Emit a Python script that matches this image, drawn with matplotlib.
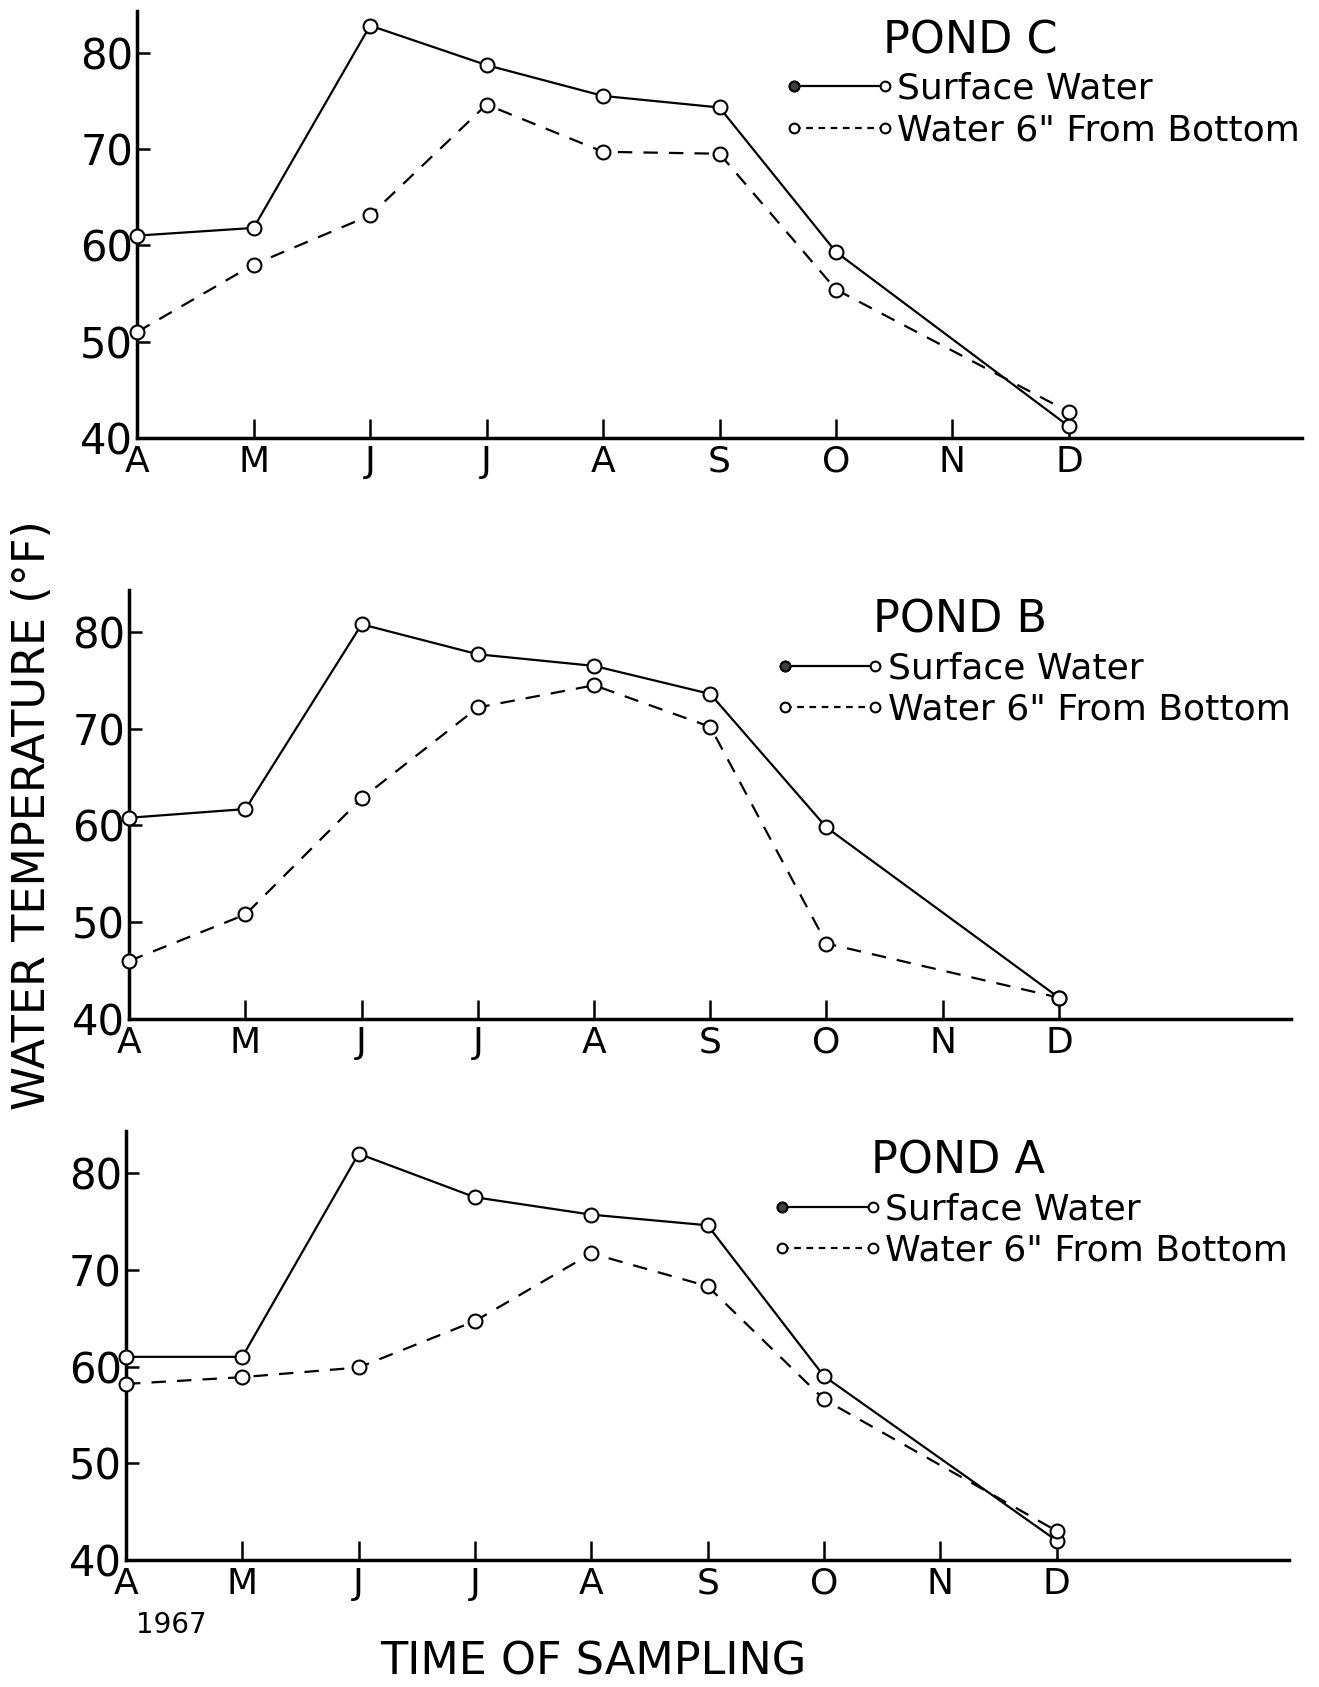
import matplotlib
matplotlib.use("Agg")
import matplotlib.pyplot as plt
from matplotlib.lines import Line2D
from matplotlib.legend_handler import HandlerTuple, HandlerLine2D

# month labels on the x axis, 1967 season
months = ['A', 'M', 'J', 'J', 'A', 'S', 'O', 'N', 'D']
# sampling dates (index into months) - nothing taken in November
sample_idx = [0, 1, 2, 3, 4, 5, 6, 8]

# water temperature (deg F)
pond_c_surface = [61.0, 61.8, 82.8, 78.7, 75.5, 74.3, 59.3, 41.2]
pond_c_bottom = [51.0, 58.0, 63.1, 74.6, 69.7, 69.5, 55.4, 42.7]
pond_b_surface = [60.8, 61.7, 80.8, 77.7, 76.5, 73.6, 59.8, 42.2]
pond_b_bottom = [46.0, 50.8, 62.8, 72.2, 74.5, 70.2, 47.8, 42.2]
pond_a_surface = [61.0, 61.0, 82.0, 77.5, 75.7, 74.6, 59.0, 42.0]
pond_a_bottom = [58.2, 58.9, 59.9, 64.7, 71.7, 68.3, 56.6, 43.0]

yticks = [40, 50, 60, 70, 80]

panels = [
    ('POND C', pond_c_surface, pond_c_bottom, [0.104, 0.7404, 0.883, 0.253]),
    ('POND B', pond_b_surface, pond_b_bottom, [0.098, 0.396, 0.881, 0.254]),
    ('POND A', pond_a_surface, pond_a_bottom, [0.0955, 0.0753, 0.882, 0.254]),
]

LW = 1.6
MS = 10


class HandlerFirstMarker(HandlerLine2D):
    """legend sample that only shows the left-hand marker"""
    def create_artists(self, *args, **kwargs):
        arts = super().create_artists(*args, **kwargs)
        for a in arts:
            a.set_markevery([0])
        return arts


fig = plt.figure(figsize=(13.19, 16.87), dpi=100)

for title, surf, bot, pos in panels:
    ax = fig.add_axes(pos)
    ax.plot(sample_idx, surf, color='k', lw=LW, marker='o', ms=MS,
            mfc='white', mec='k', mew=1.5, clip_on=False, zorder=3)
    ax.plot(sample_idx, bot, color='k', lw=LW, ls=(0, (6.5, 5)), marker='o',
            ms=MS, mfc='white', mec='k', mew=1.5, clip_on=False, zorder=3)

    ax.set_xlim(0, 10)
    ax.set_ylim(40, 84.3)
    ax.set_xticks(range(len(months)))
    ax.set_xticklabels(months)
    ax.set_yticks(yticks)
    for s in ['top', 'right']:
        ax.spines[s].set_visible(False)
    for s in ['left', 'bottom']:
        ax.spines[s].set_linewidth(2.5)
    ax.tick_params(axis='x', direction='in', length=14, width=1.8,
                   labelsize=26, pad=5)
    ax.tick_params(axis='y', direction='in', length=9, width=1.8,
                   labelsize=30, pad=3)

    ax.text(0.64, 0.93, title, transform=ax.transAxes, ha='left',
            va='center', fontsize=32)

    filled = Line2D([], [], ls='none', marker='o', ms=MS, mfc='0.25',
                    mec='k', mew=1.5)
    surf_h = (Line2D([], [], color='k', lw=LW, marker='o', ms=MS,
                     mfc='white', mec='k', mew=1.5), filled)
    bot_h = Line2D([], [], color='k', lw=LW, ls=(0, (3, 2.5)), marker='o',
                   ms=MS, mfc='white', mec='k', mew=1.5)
    ax.legend([surf_h, bot_h], ['Surface Water', 'Water 6" From Bottom'],
              handler_map={tuple: HandlerTuple(ndivide=1),
                           filled: HandlerFirstMarker()},
              loc='upper left', bbox_to_anchor=(0.555, 0.858),
              frameon=False, fontsize=26, numpoints=2, markerscale=0.7,
              handlelength=3.1, handletextpad=0.05, labelspacing=0.21,
              borderpad=0, borderaxespad=0)

fig.text(0.025, 0.517, 'WATER TEMPERATURE (\u00b0F)', rotation=90,
         ha='center', va='center', fontsize=32)
fig.text(0.450, 0.0148, 'TIME OF SAMPLING', ha='center', va='center',
         fontsize=32)
fig.text(0.130, 0.0368, '1967', ha='center', va='center', fontsize=20)

fig.savefig('out.png', dpi=100)
